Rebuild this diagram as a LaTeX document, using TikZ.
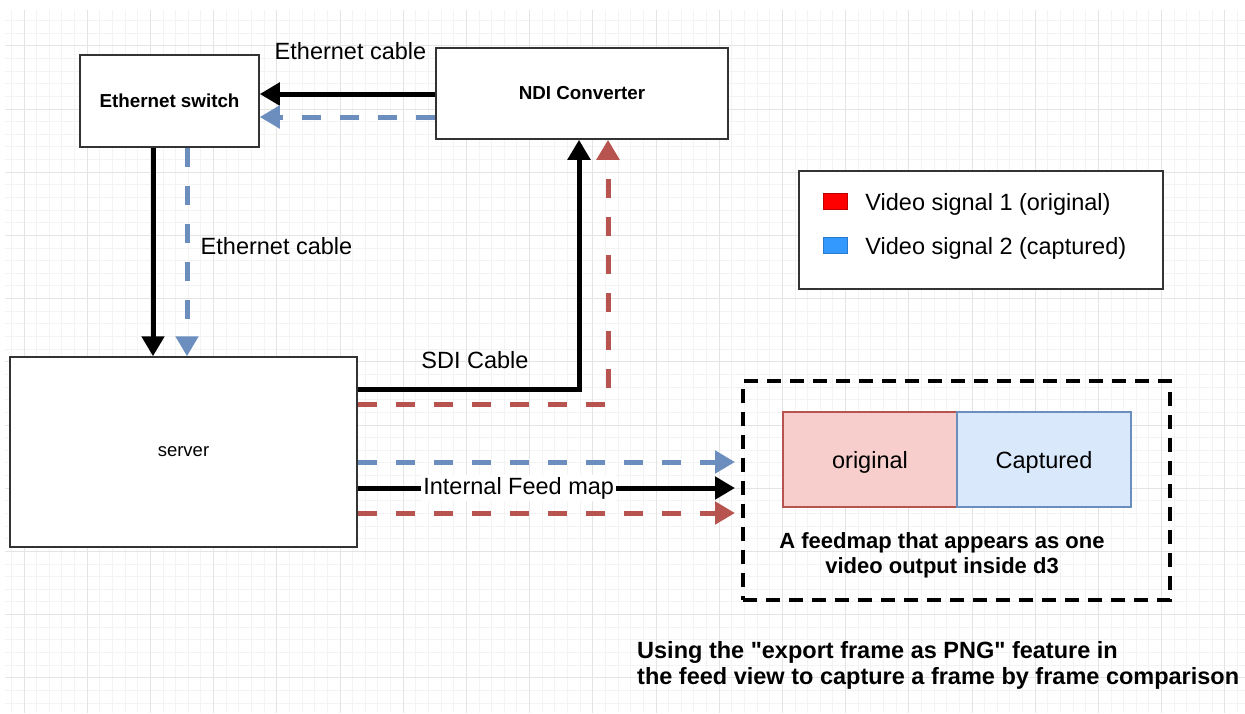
\documentclass[tikz,border=0pt]{standalone}
\usepackage{fontspec}
\setmainfont{Liberation Sans}
\usetikzlibrary{arrows.meta}
\usetikzlibrary{positioning}
\definecolor{gridminor}{HTML}{F3F3F3}
\definecolor{gridmajor}{HTML}{E4E4E4}
\definecolor{sigblue}{HTML}{6C8EBF}
\definecolor{sigred}{HTML}{B85450}
\definecolor{origfill}{HTML}{F8CECC}
\definecolor{captfill}{HTML}{DAE8FC}
\definecolor{legred}{HTML}{FF0000}
\definecolor{legblue}{HTML}{3399FF}

\begin{document}
\begin{tikzpicture}
    [
    x=1pt, y=-1pt,
    box/.style={draw=black!80, line width=1.5pt, fill=white, inner sep=0pt},
    bold/.style={font=\fontsize{18.8}{22}\selectfont\bfseries},
    lbl/.style={font=\fontsize{23.5}{28}\selectfont, inner sep=0pt},
    blk/.style={line width=5pt, -{Triangle[length=20pt,width=22pt]}},
    bluedash/.style={blk, sigblue, dash pattern=on 19pt off 19pt},
    reddash/.style={blk, sigred, dash pattern=on 19pt off 19pt},
    swatch/.style={minimum width=24pt, minimum height=16pt, inner sep=0pt}
    ]
    \useasboundingbox (0,0) rectangle (1245,713);
    \fill [white] (0,0) rectangle (1245,713);
    % grid
    \foreach \k in {-1,...,96}
      \draw [gridminor, line width=1pt] ({24+12.64*\k},10) -- ({24+12.64*\k},713);
    \foreach \k in {-32,...,22}
      \draw [gridminor, line width=1pt] (5,{425+12.64*\k}) -- (1245,{425+12.64*\k});
    \foreach \k in {0,...,19}
      \draw [gridmajor, line width=1pt] ({24+63.2*\k},10) -- ({24+63.2*\k},713);
    \foreach \k in {-6,...,4}
      \draw [gridmajor, line width=1pt] (5,{425+63.2*\k}) -- (1245,{425+63.2*\k});

    \node (sw) at (169.5,101) [box, bold, minimum width=179pt, minimum height=92pt] {Ethernet switch};
    \node (ndi) at (582,93.5) [box, bold, minimum width=292pt, minimum height=91pt] {NDI Converter};
    \node (srv) at (183.5,452) [box, minimum width=347pt, minimum height=190pt, font=\fontsize{18.5}{22}\selectfont] {server};
    \node (fm) at (956.5,490.5) [draw, line width=4pt, dash pattern=on 14pt off 9pt, minimum width=427pt, minimum height=219pt] {};
    \node (orig) at (870,459.5) [lbl, draw=sigred, fill=origfill, line width=1.2pt, outer sep=0pt, minimum width=174pt, minimum height=95pt, text depth=-2pt] {original};
    \node (capt) [right=0pt of orig, lbl, draw=sigblue, fill=captfill, line width=1.2pt, outer sep=0pt, minimum width=174pt, minimum height=95pt, text depth=-2pt] {Captured};
    \node (fmtext) at (942,555) [align=center, font=\fontsize{22}{25}\selectfont\bfseries] {A feedmap that appears as one\\video output inside d3};

    \node (eth1) at (350.5,51) [lbl] {Ethernet cable};
    \node (eth2) at (276.5,246) [lbl] {Ethernet cable};
    \node (sdi) at (475,360) [lbl] {SDI Cable};

    \draw [blk] ([yshift=-0.5pt]ndi.west) to ([yshift=-0.5pt]ndi.west -| sw.east);
    \draw [bluedash] ([yshift=-23.5pt]ndi.west) to ([yshift=-23.5pt]ndi.west -| sw.east);
    \draw [blk] ([xshift=-16.5pt]sw.south) to ([xshift=-16.5pt]sw.south |- srv.north);
    \draw [bluedash] ([xshift=17.5pt]sw.south) to ([xshift=17.5pt]sw.south |- srv.north);
    \draw [blk] ([yshift=63pt]srv.east) -| ([xshift=-3pt]ndi.south);
    \draw [reddash] ([yshift=48pt]srv.east) -| ([xshift=26pt]ndi.south);
    \draw [bluedash, shorten >=6pt] ([yshift=-10pt]srv.east) to ([yshift=-10pt]srv.east -| fm.west);
    \draw [blk, shorten >=6pt] ([yshift=-36pt]srv.east) to node [pos=0.42, lbl, fill=white, inner sep=2pt] (ifm) {Internal Feed map} ([yshift=-36pt]srv.east -| fm.west);
    \draw [reddash, shorten >=6pt] ([yshift=-61pt]srv.east) to ([yshift=-61pt]srv.east -| fm.west);

    % legend
    \node (leg) at (981,230) [box, minimum width=364pt, minimum height=118pt] {};
    \node (sq1) at (835,201) [swatch, fill=legred, draw=legred!75!black] {};
    \node (sq2) at (835,245) [swatch, fill=legblue, draw=legblue!80!black] {};
    \node (v1) [right=18pt of sq1, yshift=-3pt, lbl] {Video signal 1 (original)};
    \node (v2) [right=18pt of sq2, yshift=-3pt, lbl] {Video signal 2 (captured)};

    \node (note) at (637,665) [anchor=west, align=left, inner sep=0pt, font=\fontsize{23.5}{26}\selectfont\bfseries] {Using the \textquotedbl export frame as PNG\textquotedbl{} feature in\\the feed view to capture a frame by frame comparison};
  \end{tikzpicture}
\end{document}
